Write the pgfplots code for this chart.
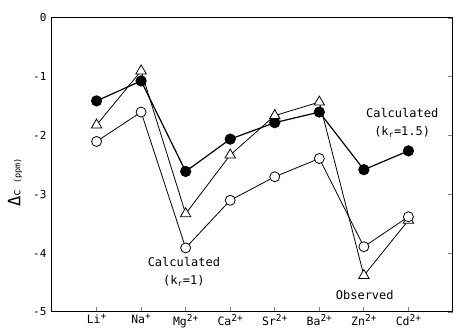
\documentclass[border=0pt]{standalone}
\usepackage{pgfplots}
\pgfplotsset{compat=1.18}
\usepackage{fontspec}
\setmainfont{DejaVu Sans Mono}
\newcommand{\ionsup}[1]{\raisebox{4pt}{\fontsize{9.5}{10}\selectfont #1}}
\begin{document}
\begin{tikzpicture}
\begin{axis}[
  scale only axis, width=401pt, height=294pt,
  xmin=-1, xmax=8, ymin=-5, ymax=0,
  xtick={0,1,2,3,4,5,6,7},
  xticklabels={Li\ionsup{+},Na\ionsup{+},Mg\ionsup{2+},Ca\ionsup{2+},Sr\ionsup{2+},Ba\ionsup{2+},Zn\ionsup{2+},Cd\ionsup{2+}},
  ytick={-5,-4,-3,-2,-1,0},
  yticklabels={-5,-4,-3,-2,-1,0},
  ytick pos=right, yticklabel pos=left,
  xtick pos=bottom,
  tick align=inside, major tick length=5pt,
  tick style={line width=0.9pt},
  yticklabel style={xshift=-2pt, font=\fontsize{11}{12}\selectfont},
  xticklabel style={inner sep=0pt, yshift=-2pt, font=\fontsize{11.5}{12}\selectfont},
  axis line style={line width=1pt},
  clip=false,
]
\addplot[black, line width=1.2pt, mark=*, mark size=5pt, mark options={fill=black}] coordinates {
(0,-1.41) (1,-1.07) (2,-2.61) (3,-2.06) (4,-1.78) (5,-1.60) (6,-2.58) (7,-2.26)};
\addplot[black, line width=0.8pt, mark=triangle*, mark size=6pt, mark options={fill=white, line width=0.8pt}] coordinates {
(0,-1.82) (1,-0.90) (2,-3.33) (3,-2.33) (4,-1.66) (5,-1.43) (6,-4.38) (7,-3.44)};
\addplot[black, line width=0.8pt, mark=*, mark size=5pt, mark options={fill=white, line width=0.8pt}] coordinates {
(0,-2.10) (1,-1.60) (2,-3.91) (3,-3.10) (4,-2.70) (5,-2.39) (6,-3.89) (7,-3.38)};
\node[align=center, font=\fontsize{12}{18}\selectfont] at (axis cs:6.86,-1.79) {Calculated\\(k\textsubscript{r}=1.5)};
\node[align=center, font=\fontsize{12}{18}\selectfont] at (axis cs:1.96,-4.32) {Calculated\\(k\textsubscript{r}=1)};
\node[font=\fontsize{12}{14}\selectfont] at (axis cs:6.02,-4.71) {Observed};
\node[rotate=90] at ([xshift=-37pt]rel axis cs:0,0.44) {{\fontsize{17}{17}\selectfont Δ}{\fontsize{11}{11}\selectfont c}\hspace{6pt}{\fontsize{8.5}{9}\selectfont(ppm)}};
\end{axis}
\pgfresetboundingbox
\useasboundingbox (-52pt,-19pt) rectangle (404pt,312pt);
\end{tikzpicture}
\end{document}
